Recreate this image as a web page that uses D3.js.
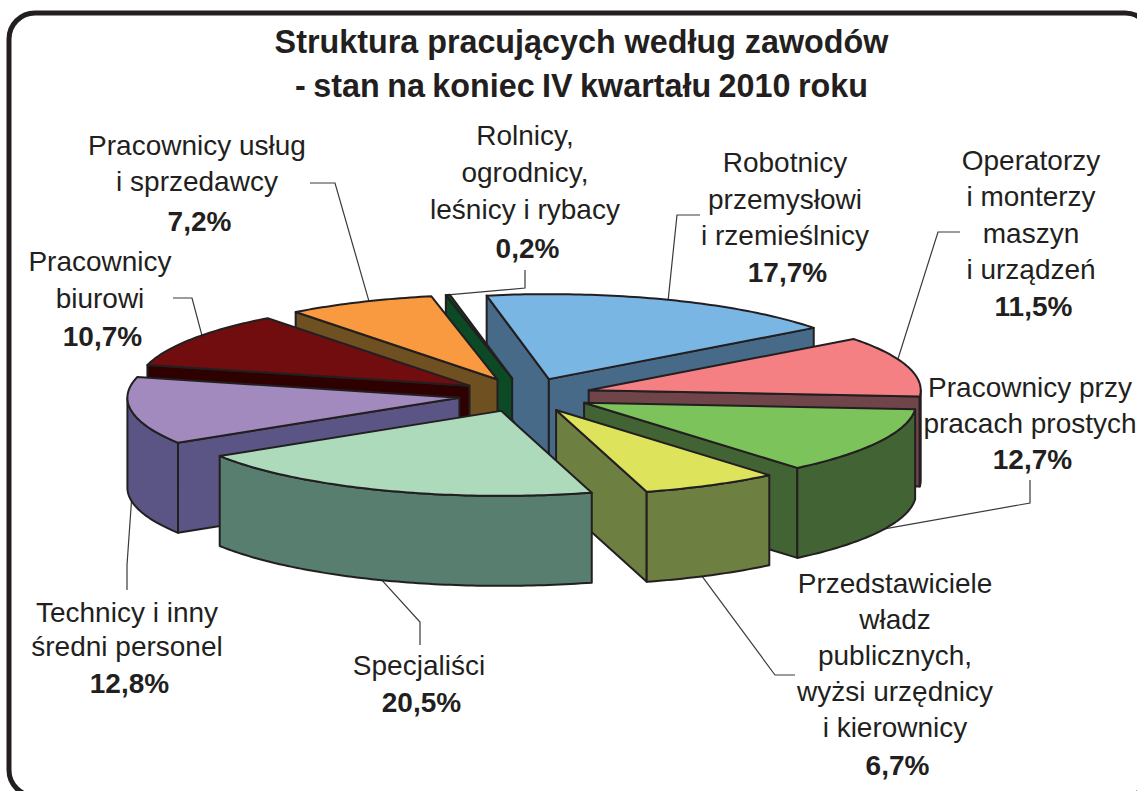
<!DOCTYPE html>
<html>
<head>
<meta charset="utf-8">
<script src="https://cdn.jsdelivr.net/npm/d3@7"></script>
<style>
html, body { margin: 0; padding: 0; background: #fff; overflow: hidden; }
text { font-family: "Liberation Sans", Arial, sans-serif; fill: #231f20; }
</style>
</head>
<body>
<div id="chart"></div>
<script>
const titleLines = ["Struktura pracujących według zawodów", "- stan na koniec IV kwartału 2010 roku"];

// zgodnie z ruchem wskazówek, od Robotników
const categories = [
    ["Robotnicy", "przemysłowi", "i rzemieślnicy"],
    ["Operatorzy", "i monterzy", "maszyn", "i urządzeń"],
    ["Pracownicy przy", "pracach prostych"],
    ["Przedstawiciele", "władz", "publicznych,", "wyżsi urzędnicy", "i kierownicy"],
    ["Specjaliści"],
    ["Technicy i inny", "średni personel"],
    ["Pracownicy", "biurowi"],
    ["Pracownicy usług", "i sprzedawcy"],
    ["Rolnicy,", "ogrodnicy,", "leśnicy i rybacy"]
];
const values = [17.7, 11.5, 12.7, 6.7, 20.5, 12.8, 10.7, 7.2, 0.2];
const topColors = ["#7ab6e4", "#f58084", "#7dc35c", "#dde35b", "#aedabc", "#a28abf", "#720d0f", "#f99a40", "#0b4a24"];
const wallColors = ["#466a87", "#6f4549", "#426333", "#6e7f42", "#587e6f", "#5a5584", "#2e0000", "#6f5020", "#0b4a24"];

// kolejność malowania: od tyłu do przodu
const drawOrder = [0, 8, 7, 6, 1, 5, 2, 3, 4];

// układ podpisów: środek, pierwsza linia bazowa, odstęp, linia bazowa procentu
const labelLayout = [
    { x: 785, y: 172, dy: 36.5, py: 282 },
    { x: 1031, y: 170, dy: 36.3, py: 316 },
    { x: 1030, y: 397, dy: 36, py: 469 },
    { x: 895, y: 593, dy: 36, py: 775 },
    { x: 419, y: 675, dy: 36, py: 712 },
    { x: 127, y: 622, dy: 34, py: 693 },
    { x: 100, y: 271, dy: 37, py: 346 },
    { x: 197, y: 155, dy: 36, py: 231 },
    { x: 525, y: 145, dy: 37, py: 258 }
];
// odcinki linii odniesienia od wycinka do podpisu
// front = zaczyna się na dolnej krawędzi ściany, nudge = przesunięcie początku w stopniach
const leaderLayout = [
    { front: false, nudge: 0, pts: [[677, 215], [700, 215]] },
    { front: false, nudge: -5, pts: [[938, 232], [960, 232]] },
    { front: true, nudge: -2, pts: [[1030, 503], [1030, 480]] },
    { front: true, nudge: 1.8, pts: [[775, 675], [795, 675]] },
    { front: true, nudge: 0, pts: [[420, 622], [420, 645]] },
    { front: true, nudge: 0, pts: [[127, 565], [127, 590]] },
    { front: false, nudge: 3, pts: [[192, 298], [173, 298]] },
    { front: false, nudge: 1.7, pts: [[335, 183], [310, 183]] },
    { front: false, nudge: 0, pts: [[525, 288], [525, 270]] }
];

const width = 1137;
const height = 791;
const centerX = 525;
const centerY = 395;
const radiusX = 332;
const radiusY = 85;
const depth = 90;
const explode = 0.2; // odsunięcie wycinków, w promieniach
const outline = "#231f20";

const svg = d3.select("#chart")
    .append("svg")
    .attr("width", width)
    .attr("height", height);

svg.append("rect")
    .attr("x", 9)
    .attr("y", 13)
    .attr("width", 1142)
    .attr("height", 783)
    .attr("rx", 26)
    .attr("fill", "#fff")
    .attr("stroke", outline)
    .attr("stroke-width", 5);

const xScale = d3.scaleLinear().domain([-1, 1]).range([centerX - radiusX, centerX + radiusX]);
const yScale = d3.scaleLinear().domain([-1, 1]).range([centerY - radiusY, centerY + radiusY]);

const startDeg = -10.8;
const pie = d3.pie().sort(null)
    .startAngle(startDeg * Math.PI / 180)
    .endAngle((startDeg + 360) * Math.PI / 180);
const arcs = pie(values);

const line = d3.line();

// punkt na górnej powierzchni wycinka; kąt liczony od góry, zgodnie z zegarem
function project(d, angle, r, drop) {
    const mid = (d.startAngle + d.endAngle) / 2;
    const u = explode * Math.sin(mid) + r * Math.sin(angle);
    const v = -explode * Math.cos(mid) - r * Math.cos(angle);
    return [xScale(u), yScale(v) + (drop || 0)];
}

function arcPoints(d, a0, a1, drop) {
    const n = Math.max(2, Math.ceil((a1 - a0) * 60));
    return d3.range(n + 1).map(i => project(d, a0 + (a1 - a0) * i / n, 1, drop));
}

// linie odniesienia pod wycinkami
arcs.forEach((d, i) => {
    const l = leaderLayout[i];
    const mid = (d.startAngle + d.endAngle) / 2 + l.nudge * Math.PI / 180;
    const start = project(d, mid, 1, l.front ? depth : 0);
    svg.append("path")
        .attr("d", line([start].concat(l.pts)))
        .attr("fill", "none")
        .attr("stroke", "#3a3a3a")
        .attr("stroke-width", 1.2);
});

drawOrder.forEach(i => {
    const d = arcs[i];
    const g = svg.append("g")
        .attr("stroke", outline)
        .attr("stroke-width", 2)
        .attr("stroke-linejoin", "round");
    const apex = project(d, 0, 0);
    const apexLow = project(d, 0, 0, depth);

    // ściany promieniowe widoczne, gdy patrzą w stronę widza
    [[d.startAngle, -1], [d.endAngle, 1]].forEach(([angle, side]) => {
        if (side * Math.sin(angle) <= 0) return;
        g.append("path")
            .attr("d", line([apex, project(d, angle, 1), project(d, angle, 1, depth), apexLow]) + "Z")
            .attr("fill", wallColors[i]);
    });

    // ściana zewnętrzna, tylko przednia połowa elipsy
    const a0 = Math.max(d.startAngle, Math.PI / 2);
    const a1 = Math.min(d.endAngle, Math.PI * 3 / 2);
    if (a1 > a0) {
        const pts = arcPoints(d, a0, a1, 0).concat(arcPoints(d, a0, a1, depth).reverse());
        g.append("path")
            .attr("d", line(pts) + "Z")
            .attr("fill", wallColors[i]);
    }

    g.append("path")
        .attr("d", line([apex].concat(arcPoints(d, d.startAngle, d.endAngle, 0))) + "Z")
        .attr("fill", topColors[i]);
});

titleLines.forEach((t, i) => {
    svg.append("text")
        .attr("x", 581.5)
        .attr("y", 53 + i * 44)
        .attr("text-anchor", "middle")
        .attr("font-size", 32.3)
        .attr("font-weight", "bold")
        .attr("word-spacing", i === 1 ? -1.5 : 0)
        .text(t);
});

categories.forEach((lines, i) => {
    const l = labelLayout[i];
    lines.forEach((t, j) => {
        svg.append("text")
            .attr("x", l.x)
            .attr("y", l.y + j * l.dy)
            .attr("text-anchor", "middle")
            .attr("font-size", 28)
            .text(t);
    });
    svg.append("text")
        .attr("x", l.x + 2.5)
        .attr("y", l.py)
        .attr("text-anchor", "middle")
        .attr("font-size", 28)
        .attr("font-weight", "bold")
        .text(values[i].toFixed(1).replace(".", ",") + "%");
});
</script>
</body>
</html>
